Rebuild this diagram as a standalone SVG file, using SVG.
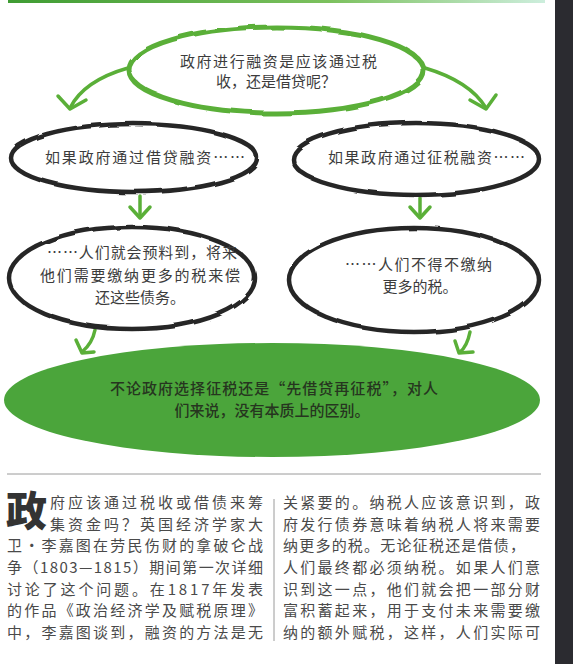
<svg xmlns="http://www.w3.org/2000/svg" width="573" height="664" viewBox="0 0 573 664">
  <style>
    .ttl { font-family: "Noto Sans CJK SC", "Noto Sans", sans-serif; font-size: 15px; fill: #3c3c3c; }
    .key { font-family: "Noto Sans CJK SC", "Noto Sans", sans-serif; font-size: 15px; font-weight: 500; fill: #26351f; }
    .body { font-family: "Noto Sans CJK SC", "Noto Sans", sans-serif; font-size: 15px; fill: #4a4a4a; }
    .ring-g { fill: #ffffff; stroke: #5aaf38; stroke-width: 5; }
    .ring-k { fill: #ffffff; stroke: #262626; stroke-width: 4.5; }
    .arw { fill: none; stroke: #5aaf38; stroke-width: 3.5; stroke-linecap: round; stroke-linejoin: round; }
  </style>
  <defs>
    <linearGradient id="bar" x1="0" y1="0" x2="1" y2="0">
      <stop offset="0" stop-color="#3f9c33"/>
      <stop offset="0.6" stop-color="#7cc15e"/>
      <stop offset="1" stop-color="#cdeedd"/>
    </linearGradient>
    <filter id="rough" x="-5%" y="-10%" width="110%" height="120%">
      <feTurbulence type="fractalNoise" baseFrequency="0.03" numOctaves="2" seed="4"/>
      <feDisplacementMap in="SourceGraphic" scale="4"/>
    </filter>
  </defs>

  <rect width="573" height="664" fill="#ffffff"/>
  <rect x="8" y="0" width="537" height="3" fill="url(#bar)"/>
  <rect x="555" y="0" width="18" height="664" fill="#2b2b30"/>

  <!-- connectors -->
  <g id="connectors">
    <path class="arw" d="M128,68 C100,76 80,88 70,108"/>
    <polyline class="arw" points="58,96 70,109 86,100"/>
    <path class="arw" d="M425,68 C452,76 474,88 486,108"/>
    <polyline class="arw" points="470,100 486,109 496,95"/>
    <line class="arw" x1="140" y1="196" x2="140" y2="217"/>
    <polyline class="arw" points="130,207 140,218 150,207"/>
    <line class="arw" x1="420" y1="198" x2="420" y2="217"/>
    <polyline class="arw" points="410,207 420,218 430,207"/>
    <path class="arw" d="M95,330 C93,340 88,347 82,352"/>
    <polyline class="arw" points="76,340 82,353 94,352"/>
    <path class="arw" d="M470,332 C468,342 465,348 460,352"/>
    <polyline class="arw" points="455,341 459,353 473,352"/>
  </g>

  <g id="question">
    <ellipse class="ring-g" filter="url(#rough)" cx="276" cy="70" rx="147" ry="43"/>
    <text class="ttl" x="180" y="67" textLength="197">政府进行融资是应该通过税</text>
    <text class="ttl" x="276" y="87" text-anchor="middle">收，还是借贷呢？</text>
  </g>

  <g id="borrow">
    <ellipse class="ring-k" filter="url(#rough)" cx="134" cy="158" rx="123" ry="34"/>
    <text class="ttl" x="45" y="163" textLength="200">如果政府通过借贷融资……</text>
  </g>

  <g id="tax">
    <ellipse class="ring-k" filter="url(#rough)" cx="416" cy="159" rx="123" ry="36"/>
    <text class="ttl" x="328" y="163" textLength="197">如果政府通过征税融资……</text>
  </g>

  <g id="borrow-result">
    <ellipse class="ring-k" filter="url(#rough)" cx="132" cy="278" rx="123" ry="51"/>
    <text class="ttl" x="47" y="258" textLength="190">……人们就会预料到，将来</text>
    <text class="ttl" x="40" y="281" textLength="200">他们需要缴纳更多的税来偿</text>
    <text class="ttl" x="140" y="303" text-anchor="middle">还这些债务。</text>
  </g>

  <g id="tax-result">
    <ellipse class="ring-k" filter="url(#rough)" cx="414" cy="280" rx="125" ry="52"/>
    <text class="ttl" x="345" y="270" textLength="147">……人们不得不缴纳</text>
    <text class="ttl" x="420" y="292" text-anchor="middle">更多的税。</text>
  </g>

  <g id="conclusion">
    <ellipse cx="272" cy="400" rx="268" ry="57" fill="#4ba53b"/>
    <text class="key" x="110" y="394" textLength="328">不论政府选择征税还是“先借贷再征税”，对人</text>
    <text class="key" x="272" y="416" text-anchor="middle">们来说，没有本质上的区别。</text>
  </g>

  <!-- article text -->
  <g id="article">
    <line x1="7" y1="474" x2="541" y2="474" stroke="#9a9a9a" stroke-width="1"/>
    <line x1="274" y1="499" x2="274" y2="641" stroke="#9a9a9a" stroke-width="1"/>
    <text x="6" y="526" font-family="Noto Sans CJK SC, sans-serif" font-size="41" font-weight="900" fill="#333333">政</text>
    <text class="body" x="50" y="508" textLength="213">府应该通过税收或借债来筹</text>
    <text class="body" x="50" y="530" textLength="213">集资金吗？英国经济学家大</text>
    <text class="body" x="7" y="551" textLength="256">卫·李嘉图在劳民伤财的拿破仑战</text>
    <text class="body" x="7" y="573" textLength="256">争（1803—1815）期间第一次详细</text>
    <text class="body" x="7" y="595" textLength="256">讨论了这个问题。在1817年发表</text>
    <text class="body" x="7" y="616" textLength="256">的作品《政治经济学及赋税原理》</text>
    <text class="body" x="7" y="638" textLength="256">中，李嘉图谈到，融资的方法是无</text>

    <text class="body" x="283" y="508" textLength="257">关紧要的。纳税人应该意识到，政</text>
    <text class="body" x="283" y="530" textLength="257">府发行债券意味着纳税人将来需要</text>
    <text class="body" x="283" y="551" textLength="242">纳更多的税。无论征税还是借债，</text>
    <text class="body" x="283" y="573" textLength="257">人们最终都必须纳税。如果人们意</text>
    <text class="body" x="283" y="595" textLength="257">识到这一点，他们就会把一部分财</text>
    <text class="body" x="283" y="616" textLength="257">富积蓄起来，用于支付未来需要缴</text>
    <text class="body" x="283" y="638" textLength="257">纳的额外赋税，这样，人们实际可</text>
  </g>
</svg>
